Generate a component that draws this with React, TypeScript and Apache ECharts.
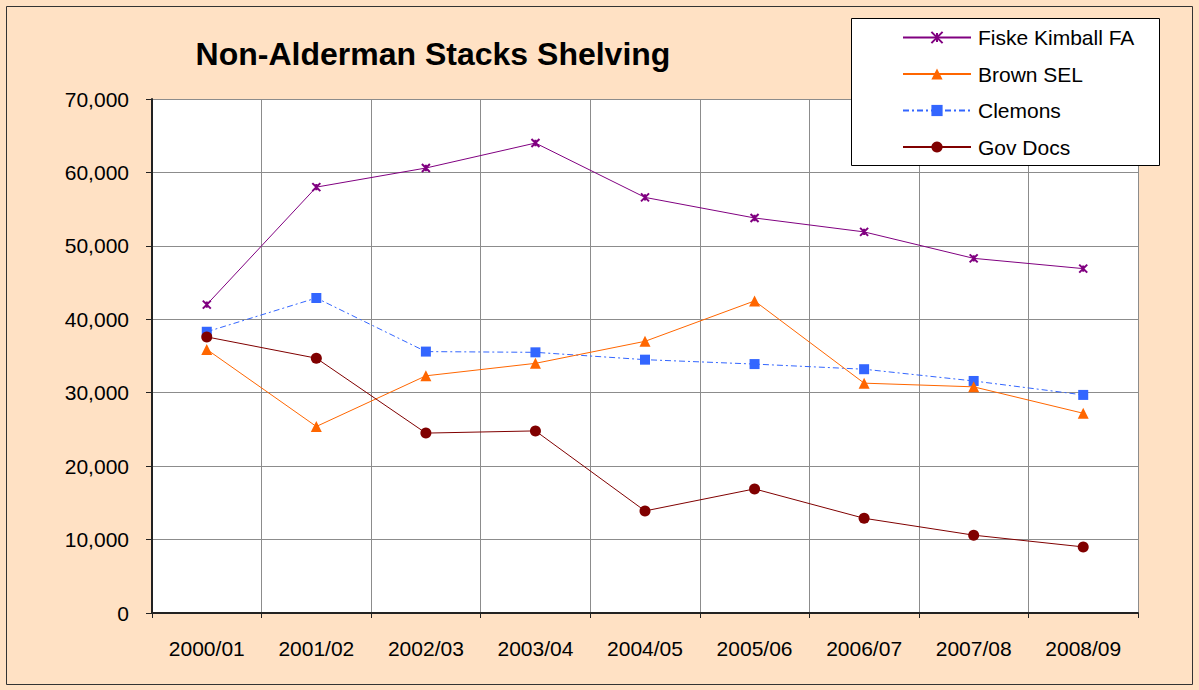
import React, { useEffect, useRef } from "react";
import * as echarts from "echarts";

const categories = ["2000/01", "2001/02", "2002/03", "2003/04", "2004/05", "2005/06", "2006/07", "2007/08", "2008/09"];
const fiskeKimball = [42000, 58000, 60600, 64000, 56600, 53800, 51900, 48300, 46900];
const brownSEL = [35900, 25400, 32300, 34000, 37000, 42500, 31300, 30800, 27200];
const clemons = [38300, 42900, 35600, 35500, 34500, 33900, 33200, 31600, 29700];
const govDocs = [37600, 34700, 24500, 24800, 13900, 16900, 12900, 10600, 9000];
const yTicks = { min: 0, max: 70000, interval: 10000 };

const FONT = "'Liberation Sans', Arial, sans-serif";

export default function App() {
  const ref = useRef<HTMLDivElement>(null);
  useEffect(() => {
    if (!ref.current) return;
    const chart = echarts.init(ref.current, null, { renderer: "svg" });
    chart.setOption({
      animation: false,
      backgroundColor: "#FFE1C4",
      textStyle: { fontFamily: FONT },
      title: {
        text: "Non-Alderman Stacks Shelving",
        left: 428,
        top: 33,
        textAlign: "center",
        textStyle: { fontFamily: FONT, fontSize: 32, fontWeight: "bold", color: "#000" },
      },
      graphic: [
        {
          type: "rect",
          shape: { x: 6.5, y: 6.5, width: 1186, height: 678 },
          style: { fill: "none", stroke: "#333", lineWidth: 1 },
          z: 100,
        },
        {
          type: "rect",
          shape: { x: 851.5, y: 18.5, width: 308, height: 147 },
          style: { fill: "#fff", stroke: "#000", lineWidth: 1 },
          z: 50,
        },
      ],
      legend: {
        orient: "vertical",
        left: 902,
        top: 27,
        padding: 0,
        itemWidth: 68,
        itemHeight: 14,
        itemGap: 15.5,
        z: 60,
        textStyle: { fontFamily: FONT, fontSize: 21, color: "#000", lineHeight: 21, padding: [0, 0, 0, 2] },
        data: ["Fiske Kimball FA", "Brown SEL", "Clemons", "Gov Docs"],
      },
      grid: {
        left: 152,
        right: 61,
        top: 99,
        bottom: 77,
        show: true,
        backgroundColor: "#fff",
        borderWidth: 0,
      },
      xAxis: {
        type: "category",
        data: categories,
        boundaryGap: true,
        axisLine: { show: true, lineStyle: { color: "#222", width: 2 } },
        axisTick: { show: true, length: 5, inside: false, lineStyle: { color: "#222", width: 1 } },
        axisLabel: { fontFamily: FONT, fontSize: 21, color: "#000", margin: 25 },
        splitLine: { show: true, lineStyle: { color: "#8c8c8c", width: 1 } },
      },
      yAxis: {
        type: "value",
        min: yTicks.min,
        max: yTicks.max,
        interval: yTicks.interval,
        axisLine: { show: true, lineStyle: { color: "#222", width: 2 } },
        axisTick: { show: true, length: 6, lineStyle: { color: "#222", width: 1 } },
        axisLabel: {
          fontFamily: FONT,
          fontSize: 21,
          color: "#000",
          margin: 23,
          formatter: (v: number) => v.toLocaleString("en-US"),
        },
        splitLine: { show: true, lineStyle: { color: "#8c8c8c", width: 1 } },
      },
      series: [
        {
          name: "Fiske Kimball FA",
          type: "line",
          data: fiskeKimball,
          symbol: "path://M0,0L10,10M10,0L0,10M5,1L5,9",
          symbolSize: 8,
          showAllSymbol: true,
          lineStyle: { color: "#800080", width: 1 },
          itemStyle: { color: "#800080", borderColor: "#800080", borderWidth: 2 },
          z: 4,
        },
        {
          name: "Brown SEL",
          type: "line",
          data: brownSEL,
          symbol: "triangle",
          symbolSize: 11,
          lineStyle: { color: "#FF6600", width: 1 },
          itemStyle: { color: "#FF6600", borderWidth: 0 },
          z: 3,
        },
        {
          name: "Clemons",
          type: "line",
          data: clemons,
          symbol: "rect",
          symbolSize: 10,
          lineStyle: { color: "#3366FF", width: 1, type: [6, 3, 2, 3] },
          itemStyle: { color: "#3366FF", borderWidth: 0 },
          z: 2,
        },
        {
          name: "Gov Docs",
          type: "line",
          data: govDocs,
          symbol: "circle",
          symbolSize: 11,
          lineStyle: { color: "#800000", width: 1 },
          itemStyle: { color: "#800000", borderWidth: 0 },
          z: 5,
        },
      ],
    });
    return () => chart.dispose();
  }, []);
  return (
    <div
      ref={ref}
      style={{ position: "absolute", left: 0, top: 0, width: 1199, height: 690 }}
    />
  );
}
